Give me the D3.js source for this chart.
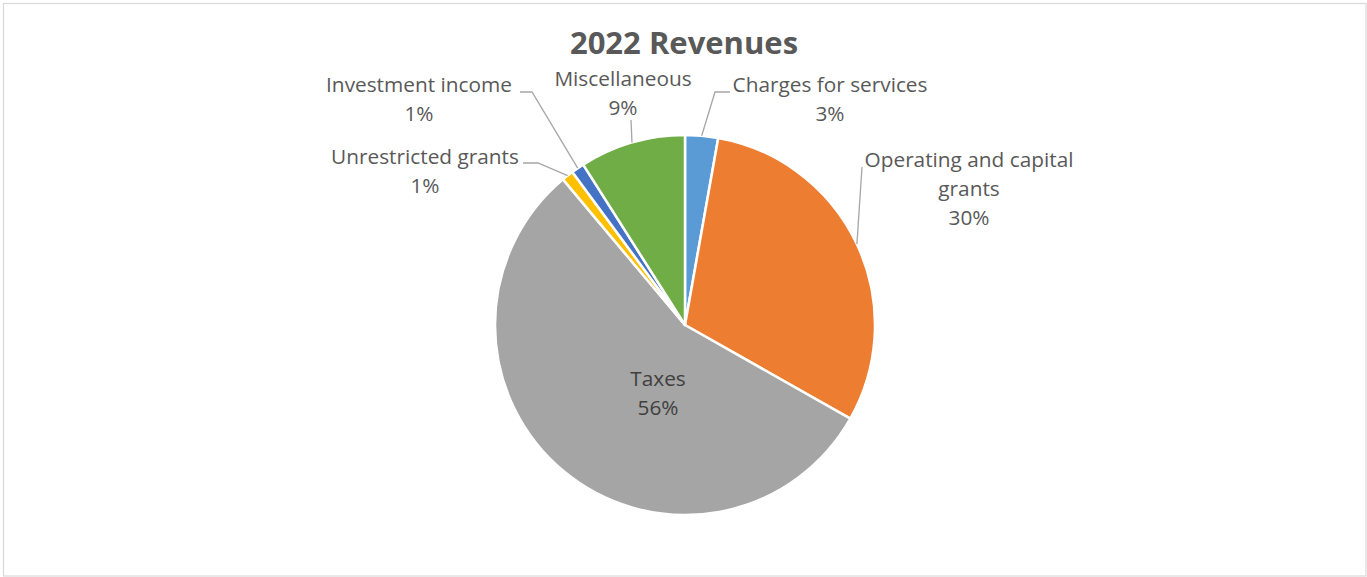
<!DOCTYPE html>
<html>
<head>
<meta charset="utf-8">
<script src="https://cdn.jsdelivr.net/npm/d3@7"></script>
<style>
  html, body { margin: 0; padding: 0; background: #fff; }
  svg { display: block; }
</style>
</head>
<body>
<svg id="chart" width="1367" height="577"></svg>
<script>
// revenue categories, clockwise from 12 o'clock
var categories = ["Charges for services", "Operating and capital grants", "Taxes",
                  "Unrestricted grants", "Investment income", "Miscellaneous"];
var shares = [2.8, 30.4, 55.7, 1.0, 1.1, 9.0];
var colors = ["#5B9BD5", "#ED7D31", "#A5A5A5", "#FFC000", "#4472C4", "#70AD47"];

// label lines (category name wrapped like the original)
var labelLines = [
  ["Charges for services"],
  ["Operating and capital", "grants"],
  ["Taxes"],
  ["Unrestricted grants"],
  ["Investment income"],
  ["Miscellaneous"]
];

var svg = d3.select("#chart");
var W = 1367, H = 577;
var cx = 685, cy = 325, R = 190;

// chart frame
svg.append("rect")
  .attr("x", 3.5).attr("y", 3.5)
  .attr("width", W - 4.5).attr("height", H - 4.5)
  .attr("fill", "#fff").attr("stroke", "#d9d9d9").attr("stroke-width", 1.2);

svg.append("text")
  .attr("x", 684).attr("y", 54)
  .attr("text-anchor", "middle")
  .attr("font-family", "'Open Sans', sans-serif")
  .attr("font-weight", "bold")
  .attr("font-size", 31)
  .attr("fill", "#595959")
  .text("2022 Revenues");

var data = categories.map(function(c, i) {
  return { name: c, value: shares[i], color: colors[i], lines: labelLines[i] };
});
var total = d3.sum(shares);

var pie = d3.pie().sort(null).value(function(d) { return d.value; });
var arc = d3.arc().innerRadius(0).outerRadius(R);
var arcs = pie(data);

var g = svg.append("g").attr("transform", "translate(" + cx + "," + cy + ")");

g.selectAll("path.slice")
  .data(arcs)
  .enter().append("path")
  .attr("class", "slice")
  .attr("d", arc)
  .attr("fill", function(d) { return d.data.color; })
  .attr("stroke", "#fff")
  .attr("stroke-width", 2.5)
  .attr("stroke-linejoin", "round");

// label layout: text centre x, first baseline, leader path after the slice edge
var layout = [
  { x: 830, y: 92,  leader: [[715, 92], [730, 92]] },
  { x: 969, y: 167, leader: [[862, 167]] },
  { x: 658, y: 386, leader: null, inside: true },
  { x: 425, y: 164, leader: [[538, 163], [523, 163]] },
  { x: 419, y: 92,  leader: [[532, 92], [520, 92]] },
  { x: 623, y: 86,  leader: [[631, 120]] }
];
var lineH = 29;

var labels = svg.append("g").attr("class", "labels");

arcs.forEach(function(a, i) {
  var L = layout[i];
  var mid = (a.startAngle + a.endAngle) / 2;
  var edge = [cx + R * Math.sin(mid), cy - R * Math.cos(mid)];

  if (L.leader) {
    var pts = [edge].concat(L.leader);
    labels.append("path")
      .attr("d", d3.line()(pts))
      .attr("fill", "none")
      .attr("stroke", "#a6a6a6")
      .attr("stroke-width", 1.3);
  }

  var lines = a.data.lines.concat([Math.round(a.data.value / total * 100) + "%"]);
  var t = labels.append("text")
    .attr("text-anchor", "middle")
    .attr("font-family", "'Open Sans', sans-serif")
    .attr("font-size", 20.8)
    .attr("fill", L.inside ? "#404040" : "#595959");
  lines.forEach(function(s, k) {
    t.append("tspan")
      .attr("x", L.x)
      .attr("y", L.y + k * lineH)
      .text(s);
  });
});
</script>
</body>
</html>
